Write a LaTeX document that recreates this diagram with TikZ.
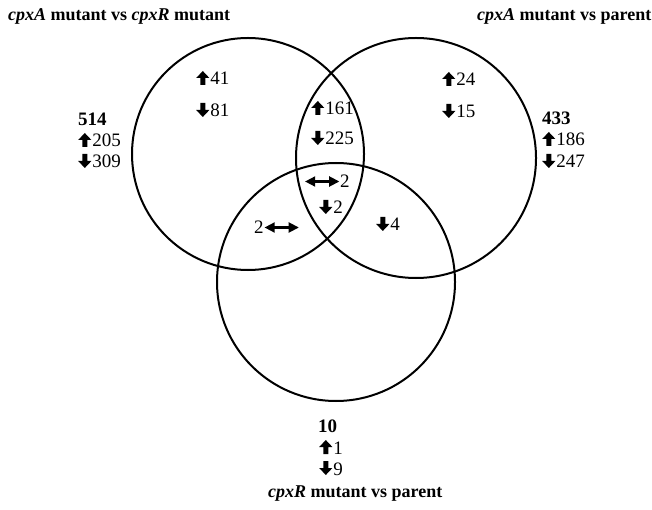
\documentclass[tikz,border=0pt]{standalone}
\usepackage{fontspec}
\setmainfont{Liberation Serif}
% heavy arrow glyphs used beside the counts
\newcommand\gup{\tikz[baseline=0pt]\fill (-2.5pt,0pt)--(-2.5pt,7pt)--(-6.6pt,7pt)--(0pt,14pt)--(6.6pt,7pt)--(2.5pt,7pt)--(2.5pt,0pt)--cycle;\hspace{1pt}}
\newcommand\gdown{\tikz[baseline=0pt]\fill (-2.5pt,14pt)--(-2.5pt,7pt)--(-6.6pt,7pt)--(0pt,0pt)--(6.6pt,7pt)--(2.5pt,7pt)--(2.5pt,14pt)--cycle;\hspace{1pt}}
\newcommand\glr{\tikz[baseline=0pt]\fill (0pt,6.5pt)--(10pt,11.8pt)--(10pt,7.9pt)--(24pt,7.9pt)--(24pt,11.8pt)--(34pt,6.5pt)--(24pt,1.2pt)--(24pt,5.1pt)--(10pt,5.1pt)--(10pt,1.2pt)--cycle;}
\begin{document}
\begin{tikzpicture}[x=1pt,y=1pt,
  ring/.style={draw, circle, line width=2pt, inner sep=0pt},
  lab/.style={anchor=base west, inner sep=0pt, font=\fontsize{19}{21}\selectfont},
  tot/.style={lab, font=\fontsize{19}{21}\selectfont\bfseries},
  ttl/.style={lab, font=\fontsize{18}{20}\selectfont\bfseries}]
\useasboundingbox (0,0) rectangle (652,509);

% the three sets
\node[ring, minimum size=232pt] (mut) at (248,355) {};
\node[ring, minimum size=240pt] (apar) at (416,351) {};
\node[ring, minimum size=238pt] (rpar) at (336,227) {};

% set titles
\node[ttl] (tmut) at (8,488) {\textit{cpxA} mutant vs \textit{cpxR} mutant};
\node[ttl] (tapar) at (477,488) {\textit{cpxA} mutant vs parent};
\node[ttl] (trpar) at (268,12) {\textit{cpxR} mutant vs parent};

% totals outside the circles
\node[tot] (nmut) at (78,383) {514};
\node[lab] (nmutu) at (78,362) {\gup 205};
\node[lab] (nmutd) at (78,341) {\gdown 309};

\node[tot] (napar) at (542,384) {433};
\node[lab] (naparu) at (542,363) {\gup 186};
\node[lab] (napard) at (542,341) {\gdown 247};

\node[tot] (nrpar) at (318,77) {10};
\node[lab] (nrparu) at (319,55) {\gup 1};
\node[lab] (nrpard) at (319,34) {\gdown 9};

% region counts
\node[lab] (onlymutu) at (196,424) {\gup 41};
\node[lab] (onlymutd) at (196,392) {\gdown 81};
\node[lab] (onlyaparu) at (442,423) {\gup 24};
\node[lab] (onlyapard) at (442,391) {\gdown 15};
\node[lab] (twou) at (311,394) {\gup 161};
\node[lab] (twod) at (311,364) {\gdown 225};
\node[lab] (alllr) at (305,321) {\glr\hspace{1pt}2};
\node[lab] (alld) at (319,295) {\gdown 2};
\node[lab] (mutrlr) at (254,275) {2\hspace{1pt}\glr};
\node[lab] (aprd) at (376,278) {\gdown 4};
\end{tikzpicture}
\end{document}
